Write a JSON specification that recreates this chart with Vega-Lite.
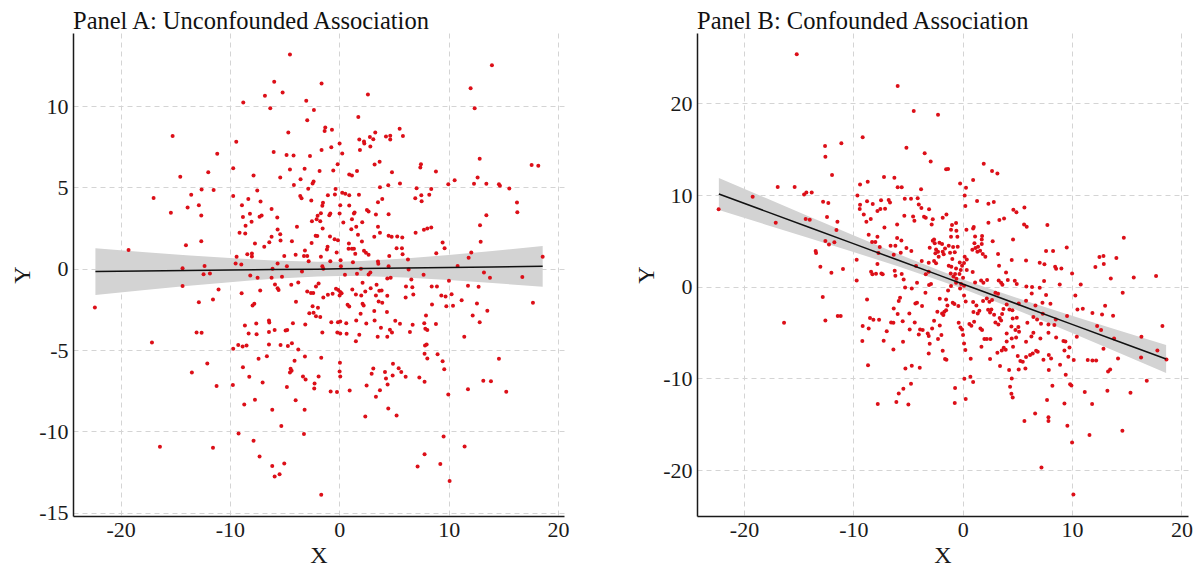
{
"$schema": "https://vega.github.io/schema/vega-lite/v6.json",
"background": "white",
"padding": {"left": 10, "top": 8, "right": 5, "bottom": 5},
"spacing": 133,
"bounds": "flush",
"config": {
  "font": "Liberation Serif",
  "view": {"stroke": null},
  "axis": {
    "grid": true, "gridColor": "#d4d4d4", "gridDash": [5, 4], "gridWidth": 1,
    "domainColor": "#1a1a1a", "domainWidth": 1.5,
    "ticks": false, "tickSize": 0,
    "labelFont": "Liberation Serif", "labelFontSize": 22, "labelColor": "#1a1a1a", "labelFlush": false,
    "titleFont": "Liberation Serif", "titleFontSize": 24, "titleFontWeight": "normal", "titleColor": "#1a1a1a",
    "labelExpr": "'' + datum.value"
  },
  "axisX": {"labelPadding": 3.5, "titlePadding": 3},
  "axisY": {"labelPadding": 5, "titlePadding": 4},
  "title": {"font": "Liberation Serif", "fontSize": 24.5, "fontWeight": "normal", "anchor": "start", "frame": "group", "baseline": "bottom", "offset": -1, "color": "#111111"}
},
"datasets": {
"a_fit": [{"x":-22.3,"fit":-0.17,"lo":-1.61,"hi":1.27},{"x":-18,"fit":-0.14,"lo":-1.32,"hi":1.04},{"x":-14,"fit":-0.11,"lo":-1.06,"hi":0.84},{"x":-10,"fit":-0.08,"lo":-0.82,"hi":0.66},{"x":-6,"fit":-0.05,"lo":-0.61,"hi":0.51},{"x":-2,"fit":-0.02,"lo":-0.47,"hi":0.43},{"x":0,"fit":0,"lo":-0.44,"hi":0.44},{"x":2,"fit":0.02,"lo":-0.44,"hi":0.48},{"x":6,"fit":0.05,"lo":-0.54,"hi":0.64},{"x":10,"fit":0.08,"lo":-0.69,"hi":0.85},{"x":14,"fit":0.11,"lo":-0.88,"hi":1.1},{"x":18.6,"fit":0.15,"lo":-1.1,"hi":1.4}],
"b_fit": [{"x":-22.3,"fit":10.11,"lo":8.36,"hi":11.86},{"x":-18,"fit":8.22,"lo":6.77,"hi":9.67},{"x":-14,"fit":6.46,"lo":5.29,"hi":7.63},{"x":-10,"fit":4.7,"lo":3.79,"hi":5.61},{"x":-6,"fit":2.94,"lo":2.26,"hi":3.62},{"x":-2,"fit":1.18,"lo":0.63,"hi":1.73},{"x":0,"fit":0.3,"lo":-0.23,"hi":0.83},{"x":2,"fit":-0.58,"lo":-1.14,"hi":-0.02},{"x":6,"fit":-2.34,"lo":-3.05,"hi":-1.63},{"x":10,"fit":-4.1,"lo":-5.04,"hi":-3.16},{"x":14,"fit":-5.86,"lo":-7.07,"hi":-4.65},{"x":18.6,"fit":-7.88,"lo":-9.41,"hi":-6.35}],
"a_pts": [
{"x":-4.51,"y":13.18},{"x":-5.95,"y":11.5},{"x":-1.62,"y":11.39},{"x":-6.8,"y":10.64},{"x":-5.18,"y":10.84},{"x":2.62,"y":10.72},{"x":-8.78,"y":10.23},{"x":-6.31,"y":9.88},{"x":-3.02,"y":10.33},{"x":-2.32,"y":9.77},{"x":-2.93,"y":9.14},{"x":1.74,"y":9.34},{"x":-1.28,"y":8.69},{"x":-1.34,"y":8.48},{"x":-0.67,"y":8.55},{"x":-4.66,"y":8.38},{"x":-9.42,"y":7.81},{"x":-6.0,"y":7.19},{"x":-1.62,"y":7.3},{"x":-0.73,"y":7.48},{"x":0.03,"y":7.7},{"x":0.27,"y":7.09},{"x":-4.82,"y":7.0},{"x":-4.18,"y":6.97},{"x":-2.68,"y":6.93},{"x":1.83,"y":7.95},{"x":2.26,"y":7.83},{"x":2.29,"y":7.7},{"x":2.8,"y":8.11},{"x":3.11,"y":7.97},{"x":3.29,"y":8.38},{"x":1.89,"y":7.3},{"x":2.84,"y":7.52},{"x":4.27,"y":8.14},{"x":4.66,"y":8.18},{"x":4.66,"y":7.95},{"x":5.52,"y":8.61},{"x":5.82,"y":8.16},{"x":-0.15,"y":6.43},{"x":-9.7,"y":6.19},{"x":-4.51,"y":6.11},{"x":-3.17,"y":6.15},{"x":-1.8,"y":6.02},{"x":-0.55,"y":6.05},{"x":1.62,"y":6.02},{"x":3.23,"y":6.41},{"x":3.69,"y":6.58},{"x":4.82,"y":5.94},{"x":7.47,"y":6.43},{"x":7.41,"y":6.23},{"x":8.84,"y":5.98},{"x":-7.84,"y":5.74},{"x":-5.4,"y":5.61},{"x":-3.54,"y":5.51},{"x":-2.35,"y":5.37},{"x":-2.44,"y":5.25},{"x":0.91,"y":5.8},{"x":1.16,"y":5.74},{"x":-4.15,"y":5.16},{"x":5.55,"y":5.25},{"x":9.97,"y":5.2},{"x":10.55,"y":5.45},{"x":-9.7,"y":4.47},{"x":-7.5,"y":4.82},{"x":-8.32,"y":4.3},{"x":-8.9,"y":3.91},{"x":-7.2,"y":4.14},{"x":-6.19,"y":3.67},{"x":-3.57,"y":4.47},{"x":-3.45,"y":4.34},{"x":-2.56,"y":4.2},{"x":-2.84,"y":4.92},{"x":-1.04,"y":4.53},{"x":-0.34,"y":4.9},{"x":-0.4,"y":4.57},{"x":0.27,"y":4.67},{"x":0.55,"y":4.61},{"x":0.91,"y":4.53},{"x":1.8,"y":4.55},{"x":-1.49,"y":4.06},{"x":-1.55,"y":3.87},{"x":0.09,"y":3.91},{"x":0.91,"y":3.89},{"x":3.72,"y":5.02},{"x":4.48,"y":5.14},{"x":3.93,"y":4.3},{"x":3.54,"y":4.1},{"x":7.07,"y":4.96},{"x":7.5,"y":4.53},{"x":8.23,"y":4.55},{"x":8.41,"y":4.9},{"x":6.95,"y":4.34},{"x":7.53,"y":4.16},{"x":-8.17,"y":3.38},{"x":-8.81,"y":3.18},{"x":-8.02,"y":2.89},{"x":-7.29,"y":3.2},{"x":-7.1,"y":3.28},{"x":-5.67,"y":3.16},{"x":-8.57,"y":2.64},{"x":-9.12,"y":2.21},{"x":-8.6,"y":2.17},{"x":-5.64,"y":2.42},{"x":-5.4,"y":2.13},{"x":-6.19,"y":1.97},{"x":-7.71,"y":1.56},{"x":-6.4,"y":1.64},{"x":-5.37,"y":1.74},{"x":-6.86,"y":1.35},{"x":-4.33,"y":1.7},{"x":-3.87,"y":2.58},{"x":-2.5,"y":2.93},{"x":-1.98,"y":3.26},{"x":-2.07,"y":3.05},{"x":-1.74,"y":2.93},{"x":-1.68,"y":3.42},{"x":-0.82,"y":3.4},{"x":-0.91,"y":3.3},{"x":0.03,"y":3.4},{"x":-1.52,"y":2.48},{"x":0.37,"y":2.85},{"x":1.16,"y":3.05},{"x":1.34,"y":3.4},{"x":1.4,"y":3.46},{"x":1.1,"y":2.44},{"x":1.55,"y":2.58},{"x":2.1,"y":2.87},{"x":1.71,"y":2.09},{"x":-2.16,"y":2.03},{"x":-2.01,"y":2.01},{"x":-2.53,"y":1.58},{"x":-0.85,"y":1.99},{"x":-0.43,"y":1.82},{"x":-0.12,"y":1.76},{"x":0.88,"y":1.56},{"x":2.07,"y":1.68},{"x":2.53,"y":3.61},{"x":2.68,"y":3.52},{"x":3.35,"y":3.34},{"x":4.51,"y":3.36},{"x":3.54,"y":2.58},{"x":3.72,"y":2.21},{"x":3.2,"y":1.97},{"x":4.51,"y":2.03},{"x":4.79,"y":1.97},{"x":5.3,"y":1.99},{"x":5.76,"y":1.93},{"x":6.98,"y":2.21},{"x":7.74,"y":2.4},{"x":8.05,"y":2.48},{"x":8.41,"y":2.54},{"x":9.45,"y":1.62},{"x":9.63,"y":1.27},{"x":8.87,"y":0.96},{"x":5.24,"y":1.27},{"x":5.73,"y":1.27},{"x":5.79,"y":0.9},{"x":6.28,"y":0.57},{"x":1.16,"y":1.23},{"x":1.34,"y":1.23},{"x":0.85,"y":1.23},{"x":-1.07,"y":1.35},{"x":-1.13,"y":1.19},{"x":-0.24,"y":1.0},{"x":1.46,"y":0.92},{"x":2.26,"y":1.11},{"x":2.44,"y":0.98},{"x":2.68,"y":0.86},{"x":-3.14,"y":1.13},{"x":-2.93,"y":0.78},{"x":-3.23,"y":0.78},{"x":-3.99,"y":0.86},{"x":-5.03,"y":0.78},{"x":-7.99,"y":0.94},{"x":-8.41,"y":0.9},{"x":-7.99,"y":0.76},{"x":-9.39,"y":0.74},{"x":-5.64,"y":0.33},{"x":-4.79,"y":0.16},{"x":-1.68,"y":0.74},{"x":-0.82,"y":0.47},{"x":-1.55,"y":0.16},{"x":0.12,"y":0.53},{"x":1.25,"y":0.41},{"x":3.54,"y":0.45},{"x":4.57,"y":0.78},{"x":-9.48,"y":0.33},{"x":-8.96,"y":0.27},{"x":-2.8,"y":0.47},
{"x":-1.46,"y":0.0},{"x":0.15,"y":0.16},{"x":1.98,"y":0.0},{"x":3.57,"y":0.31},{"x":4.51,"y":0.16},{"x":6.34,"y":-0.04},{"x":-3.41,"y":-0.16},{"x":-6.1,"y":0.0},{"x":-8.14,"y":-0.41},{"x":-7.47,"y":-0.55},{"x":-6.19,"y":-0.55},{"x":-5.24,"y":-0.49},{"x":-5.88,"y":-0.96},{"x":-5.64,"y":-1.19},{"x":-5.55,"y":-1.31},{"x":-8.93,"y":-1.5},{"x":-7.23,"y":-1.33},{"x":-4.39,"y":-0.98},{"x":-3.75,"y":-0.84},{"x":-2.13,"y":-1.09},{"x":-1.89,"y":-0.9},{"x":-2.93,"y":-1.39},{"x":-2.59,"y":-1.48},{"x":-2.38,"y":-1.48},{"x":-1.46,"y":-1.76},{"x":-1.04,"y":-1.6},{"x":-0.61,"y":-1.54},{"x":-0.3,"y":-1.23},{"x":-0.09,"y":-1.31},{"x":0.09,"y":-1.43},{"x":0.21,"y":-1.5},{"x":0.03,"y":-1.64},{"x":0.52,"y":-0.37},{"x":1.62,"y":-0.31},{"x":2.68,"y":-0.35},{"x":2.84,"y":-0.23},{"x":4.39,"y":-0.59},{"x":4.7,"y":-0.55},{"x":2.13,"y":-0.86},{"x":1.19,"y":-1.27},{"x":1.52,"y":-1.58},{"x":2.01,"y":-1.64},{"x":2.38,"y":-1.39},{"x":2.87,"y":-1.19},{"x":3.41,"y":-0.98},{"x":3.66,"y":-1.35},{"x":3.87,"y":-1.33},{"x":3.35,"y":-1.64},{"x":3.6,"y":-2.01},{"x":3.93,"y":-2.09},{"x":4.39,"y":-1.66},{"x":6.1,"y":-1.09},{"x":6.59,"y":-0.66},{"x":6.68,"y":-1.13},{"x":6.07,"y":-1.76},{"x":6.77,"y":-1.58},{"x":7.71,"y":-0.37},{"x":8.45,"y":-1.09},{"x":8.93,"y":-1.09},{"x":10.03,"y":-0.74},{"x":9.33,"y":-1.64},{"x":9.72,"y":-1.7},{"x":10.27,"y":-1.56},{"x":-7.93,"y":-2.25},{"x":-7.77,"y":-2.15},{"x":-3.96,"y":-2.03},{"x":-2.44,"y":-2.3},{"x":-1.95,"y":-2.4},{"x":-2.74,"y":-2.73},{"x":-2.35,"y":-2.7},{"x":-2.13,"y":-2.91},{"x":-1.74,"y":-2.97},{"x":0.76,"y":-2.21},{"x":0.91,"y":-2.32},{"x":2.13,"y":-2.15},{"x":2.23,"y":-2.25},{"x":1.95,"y":-2.77},{"x":3.2,"y":-2.6},{"x":4.36,"y":-2.66},{"x":6.71,"y":-3.44},{"x":7.93,"y":-2.87},{"x":8.48,"y":-2.19},{"x":9.79,"y":-2.3},{"x":10.4,"y":-2.27},{"x":-8.63,"y":-3.48},{"x":-7.59,"y":-3.36},{"x":-6.43,"y":-3.18},{"x":-6.4,"y":-3.3},{"x":-5.91,"y":-3.77},{"x":-6.43,"y":-3.89},{"x":-8.29,"y":-3.98},{"x":-7.56,"y":-4.02},{"x":-4.91,"y":-3.79},{"x":-4.76,"y":-3.77},{"x":-4.24,"y":-3.34},{"x":-3.11,"y":-3.42},{"x":-1.55,"y":-3.91},{"x":-0.73,"y":-3.28},{"x":-0.12,"y":-3.28},{"x":0.09,"y":-3.24},{"x":0.64,"y":-3.34},{"x":-0.18,"y":-3.91},{"x":0.09,"y":-3.98},{"x":0.67,"y":-4.0},{"x":1.55,"y":-3.18},{"x":2.47,"y":-3.36},{"x":3.23,"y":-3.18},{"x":3.81,"y":-3.63},{"x":4.63,"y":-3.75},{"x":4.82,"y":-3.91},{"x":5.12,"y":-3.2},{"x":5.55,"y":-3.38},{"x":3.51,"y":-4.18},{"x":4.39,"y":-4.18},{"x":1.83,"y":-4.06},{"x":1.52,"y":-4.45},{"x":6.46,"y":-3.89},{"x":7.77,"y":-3.34},{"x":8.05,"y":-3.77},{"x":7.87,"y":-3.69},{"x":8.84,"y":-3.4},{"x":-9.7,"y":-4.92},{"x":-9.24,"y":-4.69},{"x":-8.84,"y":-4.77},{"x":-8.48,"y":-4.71},{"x":-6.43,"y":-4.65},{"x":-5.37,"y":-4.69},{"x":-4.7,"y":-4.75},{"x":-4.33,"y":-4.57},{"x":-3.75,"y":-4.96},{"x":-3.14,"y":-5.39},{"x":-4.09,"y":-5.66},{"x":-7.38,"y":-5.53},{"x":-6.62,"y":-5.37},{"x":-1.65,"y":-5.47},{"x":0.06,"y":-5.78},{"x":0.03,"y":-6.31},{"x":0.09,"y":-6.62},{"x":-4.45,"y":-6.15},{"x":-4.36,"y":-6.27},{"x":-4.51,"y":-6.37},{"x":-8.81,"y":-6.05},{"x":-8.23,"y":-6.64},{"x":-7.01,"y":-6.99},{"x":-3.32,"y":-6.62},{"x":-3.08,"y":-6.8},{"x":-1.89,"y":-6.62},{"x":-2.26,"y":-7.05},{"x":-2.29,"y":-7.36},{"x":-4.79,"y":-7.27},{"x":-9.73,"y":-7.15},{"x":-0.79,"y":-7.54},{"x":-0.21,"y":-7.58},{"x":0.95,"y":-7.48},{"x":2.5,"y":-7.17},{"x":2.96,"y":-6.45},{"x":3.11,"y":-6.13},{"x":4.18,"y":-6.35},{"x":4.27,"y":-6.74},{"x":4.42,"y":-7.11},{"x":4.91,"y":-5.84},{"x":4.88,"y":-6.56},{"x":5.43,"y":-6.11},{"x":5.67,"y":-6.35},{"x":6.07,"y":-6.64},{"x":3.72,"y":-7.46},{"x":3.35,"y":-7.87},{"x":4.48,"y":-8.59},{"x":5.24,"y":-9.02},{"x":2.38,"y":-9.08},{"x":7.32,"y":-6.68},{"x":7.8,"y":-6.95},{"x":7.84,"y":-4.71},{"x":7.99,"y":-4.65},{"x":7.8,"y":-5.23},{"x":8.05,"y":-5.51},{"x":8.99,"y":-5.25},{"x":9.45,"y":-5.68},{"x":9.6,"y":-6.17},{"x":9.97,"y":-7.73},{"x":-8.69,"y":-8.34},{"x":-7.71,"y":-8.05},{"x":-6.13,"y":-8.67},{"x":-3.99,"y":-8.09},{"x":-3.17,"y":-8.67},{"x":-5.3,"y":-9.67},{"x":-9.21,"y":-10.12},{"x":-3.23,"y":-10.16},{"x":-7.84,"y":-10.57},{"x":-7.29,"y":-11.54},{"x":-6.13,"y":-12.13},{"x":-5.03,"y":-11.97},{"x":-5.91,"y":-12.77},{"x":-5.46,"y":-12.64},{"x":-1.65,"y":-13.89},{"x":9.54,"y":-10.31},{"x":7.8,"y":-11.41},{"x":7.16,"y":-12.15},{"x":9.24,"y":-12.01},{"x":10.09,"y":-13.05},
{"x":-15.24,"y":8.16},{"x":-11.16,"y":7.07},{"x":-14.54,"y":5.66},{"x":-11.98,"y":5.94},{"x":-16.98,"y":4.36},{"x":-13.54,"y":4.55},{"x":-12.59,"y":4.88},{"x":-11.49,"y":4.84},{"x":-15.4,"y":3.44},{"x":-13.87,"y":3.77},{"x":-12.84,"y":3.91},{"x":-12.62,"y":3.28},{"x":-14.02,"y":1.45},{"x":-12.62,"y":1.7},{"x":-19.27,"y":1.15},{"x":-14.33,"y":0.04},{"x":-12.32,"y":0.18},{"x":-12.41,"y":-0.33},{"x":-11.83,"y":-0.29},{"x":-14.33,"y":-1.05},
{"x":-11.04,"y":-1.27},{"x":-22.35,"y":-2.38},{"x":-12.84,"y":-2.05},{"x":-11.55,"y":-1.88},{"x":-13.05,"y":-3.91},{"x":-12.59,"y":-3.93},{"x":-17.13,"y":-4.53},{"x":-12.07,"y":-5.82},{"x":-13.48,"y":-6.37},{"x":-11.22,"y":-7.21},{"x":-16.4,"y":-10.94},{"x":-11.55,"y":-11.0},
{"x":13.96,"y":12.52},{"x":12.01,"y":11.11},{"x":12.38,"y":9.88},{"x":12.84,"y":6.76},{"x":17.59,"y":6.39},{"x":18.2,"y":6.33},{"x":12.32,"y":5.23},{"x":12.65,"y":5.61},{"x":13.45,"y":5.23},{"x":14.6,"y":5.2},{"x":14.69,"y":5.1},{"x":15.55,"y":4.94},{"x":16.25,"y":4.08},{"x":16.28,"y":3.48},{"x":13.45,"y":3.3},{"x":12.87,"y":2.68},{"x":12.93,"y":1.66},{"x":12.07,"y":1.0},{"x":11.83,"y":0.68},{"x":18.6,"y":0.74},{"x":10.82,"y":0.18},{"x":13.23,"y":-0.23},{"x":13.78,"y":-0.55},{"x":16.74,"y":-0.51},
{"x":11.77,"y":-1.04},{"x":12.74,"y":-1.11},{"x":11.19,"y":-1.93},{"x":12.59,"y":-2.13},{"x":17.71,"y":-2.09},{"x":13.54,"y":-2.58},{"x":12.2,"y":-2.87},{"x":12.84,"y":-3.28},{"x":11.43,"y":-4.18},{"x":14.6,"y":-5.53},{"x":13.17,"y":-6.89},{"x":13.87,"y":-6.91},{"x":11.77,"y":-7.4},{"x":15.27,"y":-7.56},{"x":11.46,"y":-10.92}
],
"b_pts": [
{"x":-5.95,"y":21.89},{"x":-4.48,"y":19.16},{"x":-2.26,"y":18.76},{"x":-11.1,"y":15.64},{"x":-9.15,"y":16.29},{"x":-5.15,"y":15.16},{"x":-3.48,"y":14.55},{"x":-2.93,"y":13.67},{"x":-1.52,"y":12.8},{"x":-1.34,"y":12.84},{"x":1.92,"y":13.42},{"x":2.68,"y":12.62},{"x":3.17,"y":12.36},{"x":-9.39,"y":11.16},{"x":-8.69,"y":11.45},{"x":-7.2,"y":11.96},{"x":-6.25,"y":11.89},{"x":-5.95,"y":10.84},{"x":-5.58,"y":10.84},{"x":-3.81,"y":10.62},{"x":-0.24,"y":11.27},{"x":0.3,"y":10.8},{"x":0.95,"y":11.64},{"x":-9.63,"y":9.96},{"x":-8.75,"y":9.31},{"x":-9.39,"y":8.95},{"x":-9.42,"y":8.47},{"x":-8.23,"y":9.02},{"x":-7.47,"y":9.42},{"x":-6.77,"y":9.45},{"x":-6.65,"y":9.2},{"x":-5.3,"y":9.6},{"x":-4.73,"y":9.6},{"x":-4.12,"y":9.64},{"x":-4.02,"y":8.98},{"x":-3.78,"y":8.58},{"x":-7.53,"y":8.47},{"x":-7.8,"y":8.25},{"x":-7.1,"y":8.51},{"x":-9.05,"y":7.89},{"x":-8.41,"y":7.38},{"x":-8.81,"y":7.09},{"x":-5.34,"y":7.75},{"x":-4.54,"y":7.67},{"x":-4.42,"y":7.2},{"x":-3.54,"y":7.64},{"x":-3.38,"y":7.53},{"x":-2.74,"y":7.35},{"x":-3.08,"y":8.44},{"x":-1.83,"y":7.53},{"x":-1.49,"y":7.89},{"x":0.18,"y":9.96},{"x":0.24,"y":8.8},{"x":1.31,"y":9.35},{"x":2.35,"y":9.05},{"x":2.84,"y":9.24},{"x":4.63,"y":8.4},{"x":4.91,"y":8.11},{"x":5.64,"y":8.65},{"x":-11.46,"y":7.09},{"x":-11.55,"y":6.18},{"x":3.35,"y":7.27},{"x":3.78,"y":7.45},{"x":2.35,"y":6.98},{"x":-0.61,"y":6.95},{"x":-0.98,"y":6.73},{"x":-1.07,"y":6.22},{"x":-0.58,"y":6.11},{"x":-2.84,"y":6.8},{"x":-6.0,"y":6.8},{"x":-7.16,"y":6.47},{"x":1.01,"y":6.51},{"x":0.95,"y":6.36},{"x":0.34,"y":6.22},{"x":5.61,"y":6.8},{"x":5.85,"y":6.55},{"x":7.74,"y":6.73},{"x":-8.6,"y":5.67},{"x":-8.29,"y":4.87},{"x":-7.99,"y":4.87},{"x":-7.59,"y":4.33},{"x":-7.8,"y":5.45},{"x":-6.6,"y":4.47},{"x":-6.0,"y":5.31},{"x":-6.16,"y":4.47},{"x":-5.61,"y":5.05},{"x":-5.15,"y":4.22},{"x":-4.7,"y":3.89},{"x":-5.67,"y":3.71},{"x":-7.71,"y":3.67},{"x":-9.7,"y":2.95},{"x":-10.95,"y":1.93},{"x":-9.7,"y":0.69},{"x":-8.38,"y":1.64},{"x":-8.26,"y":1.35},{"x":-7.93,"y":1.42},{"x":-7.44,"y":1.45},{"x":-7.32,"y":1.35},{"x":-7.8,"y":2.47},{"x":-6.22,"y":1.75},{"x":-6.16,"y":1.2},{"x":-5.58,"y":1.38},{"x":-5.4,"y":0.8},{"x":-6.31,"y":3.49},{"x":-4.18,"y":0.44},{"x":-4.27,"y":2.25},{"x":-3.38,"y":1.35},{"x":-3.11,"y":2.62},{"x":-2.62,"y":5.16},{"x":-2.56,"y":4.73},{"x":-2.13,"y":4.8},{"x":-1.89,"y":4.65},{"x":-1.83,"y":3.82},{"x":-2.26,"y":3.82},{"x":-2.5,"y":3.64},{"x":-2.44,"y":4.07},{"x":-2.2,"y":3.27},{"x":-1.74,"y":3.53},{"x":-1.62,"y":4.18},{"x":-1.28,"y":4.47},{"x":-1.07,"y":5.45},{"x":-0.88,"y":4.33},{"x":-0.73,"y":3.75},{"x":-0.46,"y":4.36},{"x":-0.49,"y":5.45},{"x":-0.95,"y":3.02},{"x":-1.28,"y":2.29},{"x":-1.1,"y":1.45},{"x":-2.62,"y":2.8},{"x":-2.44,"y":2.55},{"x":-3.11,"y":1.64},{"x":0.18,"y":3.27},{"x":0.37,"y":2.98},{"x":0.12,"y":2.58},{"x":-0.06,"y":2.29},{"x":-0.18,"y":1.82},{"x":-0.3,"y":1.38},{"x":-0.7,"y":1.38},{"x":-0.58,"y":0.87},{"x":1.13,"y":5.49},{"x":1.77,"y":5.53},{"x":1.74,"y":5.16},{"x":0.88,"y":4.04},{"x":1.16,"y":4.22},{"x":1.34,"y":3.82},{"x":1.4,"y":4.36},{"x":1.59,"y":3.93},{"x":1.83,"y":3.56},{"x":2.07,"y":3.27},{"x":1.74,"y":4.65},{"x":2.74,"y":4.95},{"x":3.32,"y":2.29},{"x":3.23,"y":3.56},{"x":3.96,"y":1.56},{"x":4.48,"y":2.91},{"x":4.6,"y":5.16},{"x":5.79,"y":2.87},{"x":7.04,"y":2.62},{"x":7.47,"y":2.44},{"x":7.62,"y":3.89},{"x":8.26,"y":3.89},{"x":8.45,"y":2.18},{"x":8.54,"y":1.96},{"x":9.02,"y":2.0},{"x":9.51,"y":4.29},{"x":10.0,"y":1.45},{"x":10.79,"y":0.25},{"x":0.91,"y":1.6},{"x":1.13,"y":0.47},{"x":1.68,"y":0.69},{"x":1.89,"y":0.44},{"x":2.23,"y":0.73},{"x":3.29,"y":0.69},{"x":3.51,"y":0.44},{"x":3.63,"y":0.22},{"x":4.12,"y":0.73},{"x":4.76,"y":0.65},{"x":4.94,"y":0.29},{"x":5.82,"y":0.04},{"x":6.34,"y":-0.04},{"x":7.04,"y":-0.11},{"x":7.44,"y":0.62},{"x":-2.74,"y":5.02},{"x":-3.75,"y":2.8},{"x":-3.02,"y":4.25},{"x":-0.61,"y":0.44},{"x":-0.15,"y":0.29},{"x":0.03,"y":0.98},{"x":0.37,"y":1.82},{"x":-1.16,"y":3.71},{"x":1.07,"y":4.73},{"x":-1.04,"y":2.18},{"x":-0.61,"y":2.0},{"x":-0.27,"y":2.65},{"x":-0.85,"y":1.13},
{"x":-11.43,"y":-3.2},{"x":-11.16,"y":-3.2},{"x":-8.75,"y":-1.38},{"x":-9.15,"y":-4.29},{"x":-8.6,"y":-4.55},{"x":-8.48,"y":-3.42},{"x":-8.17,"y":-3.6},{"x":-7.65,"y":-3.6},{"x":-9.18,"y":-5.93},{"x":-8.66,"y":-8.55},{"x":-7.77,"y":-12.8},{"x":-7.23,"y":-5.89},{"x":-6.95,"y":-4.84},{"x":-6.55,"y":-3.89},{"x":-6.34,"y":-3.93},{"x":-6.34,"y":-6.84},{"x":-6.31,"y":-2.36},{"x":-5.95,"y":-2.98},{"x":-5.85,"y":-1.56},{"x":-5.73,"y":-1.2},{"x":-5.49,"y":-3.75},{"x":-5.46,"y":-6.0},{"x":-4.85,"y":-4.65},{"x":-4.39,"y":-3.89},{"x":-4.88,"y":-2.91},{"x":-5.27,"y":-0.07},{"x":-4.66,"y":-0.18},{"x":-4.33,"y":-1.82},{"x":-4.18,"y":-1.75},{"x":-3.72,"y":-2.11},{"x":-3.41,"y":-0.65},{"x":-3.08,"y":0.18},{"x":-2.9,"y":0.29},{"x":-3.9,"y":-4.65},{"x":-4.02,"y":-5.2},{"x":-3.66,"y":-4.73},{"x":-3.2,"y":-5.09},{"x":-3.11,"y":-5.38},{"x":-2.8,"y":-4.55},{"x":-3.02,"y":-6.22},{"x":-3.11,"y":-7.27},{"x":-2.62,"y":-3.71},{"x":-2.1,"y":-4.22},{"x":-2.32,"y":-2.73},{"x":-2.1,"y":-1.31},{"x":-1.89,"y":-2.91},{"x":-1.77,"y":-3.09},{"x":-1.68,"y":-2.73},{"x":-1.52,"y":-2.55},{"x":-1.4,"y":-2.04},{"x":-1.52,"y":-1.38},{"x":-1.34,"y":-0.4},{"x":-1.07,"y":0.07},{"x":-0.91,"y":-1.75},{"x":-0.76,"y":-1.89},{"x":-0.4,"y":-2.11},{"x":-0.24,"y":-0.18},{"x":0.12,"y":-0.95},{"x":0.27,"y":-1.6},{"x":0.12,"y":0.11},{"x":-1.95,"y":-5.27},{"x":-2.26,"y":-5.71},{"x":-1.83,"y":-6.98},{"x":-1.62,"y":-7.89},{"x":-1.49,"y":-7.96},{"x":-5.24,"y":-8.91},{"x":-4.66,"y":-8.62},{"x":-3.93,"y":-8.84},{"x":-4.73,"y":-10.58},{"x":-5.43,"y":-11.13},{"x":-5.85,"y":-11.64},{"x":-6.07,"y":-12.58},{"x":-4.97,"y":-12.84},{"x":-0.7,"y":-11.05},{"x":-0.73,"y":-12.69},{"x":0.15,"y":-10.04},{"x":0.7,"y":-9.82},{"x":0.95,"y":-10.4},{"x":0.27,"y":-12.25},{"x":-0.37,"y":-3.93},{"x":-0.21,"y":-4.44},{"x":-0.06,"y":-4.65},{"x":0.03,"y":-5.27},{"x":0.12,"y":-6.18},{"x":0.24,"y":-6.91},{"x":0.73,"y":-7.85},{"x":0.61,"y":-4.07},{"x":0.79,"y":-4.25},{"x":0.98,"y":-2.76},{"x":1.04,"y":-3.82},{"x":0.95,"y":-1.67},{"x":1.25,"y":-2.04},{"x":1.37,"y":-2.91},{"x":1.52,"y":-2.62},{"x":1.62,"y":-4.55},{"x":1.77,"y":-4.73},{"x":1.98,"y":-5.71},{"x":2.2,"y":-5.71},{"x":2.53,"y":-5.71},{"x":1.71,"y":-6.55},{"x":2.5,"y":-7.89},{"x":2.32,"y":-2.51},{"x":2.5,"y":-2.8},{"x":2.62,"y":-2.47},{"x":2.87,"y":-3.05},{"x":2.99,"y":-3.89},{"x":3.26,"y":-4.11},{"x":3.38,"y":-3.42},{"x":3.51,"y":-3.67},{"x":3.6,"y":-2.98},{"x":3.72,"y":-2.44},{"x":3.23,"y":-0.76},{"x":2.99,"y":-0.65},{"x":2.2,"y":-1.27},{"x":2.44,"y":-1.64},{"x":2.68,"y":-1.45},{"x":1.86,"y":-1.56},{"x":3.17,"y":-7.2},{"x":3.57,"y":-6.95},{"x":3.75,"y":-6.65},{"x":3.41,"y":-8.65},{"x":4.02,"y":-5.09},{"x":4.02,"y":-5.96},{"x":3.93,"y":-6.87},{"x":4.24,"y":-9.09},{"x":4.48,"y":-10.0},{"x":4.33,"y":-10.91},{"x":4.45,"y":-11.67},{"x":4.57,"y":-12.07},{"x":4.48,"y":-5.64},{"x":4.6,"y":-6.55},{"x":4.88,"y":-5.53},{"x":5.03,"y":-7.56},{"x":5.27,"y":-8.11},{"x":5.12,"y":-9.02},{"x":5.49,"y":-8.18},{"x":5.73,"y":-8.91},{"x":5.79,"y":-7.67},{"x":6.16,"y":-7.45},{"x":6.4,"y":-7.27},{"x":6.71,"y":-6.98},{"x":6.86,"y":-7.09},{"x":7.38,"y":-7.96},{"x":7.87,"y":-7.45},{"x":8.08,"y":-7.82},{"x":7.87,"y":-9.09},{"x":8.2,"y":-10.8},{"x":7.71,"y":-12.36},{"x":6.62,"y":-13.82},{"x":5.64,"y":-14.65},{"x":7.84,"y":-14.22},{"x":7.84,"y":-14.65},{"x":7.2,"y":-19.71},{"x":9.3,"y":-12.73},{"x":9.57,"y":-15.16},{"x":10.0,"y":-16.98},{"x":9.42,"y":-9.6},{"x":9.82,"y":-10.62},{"x":9.94,"y":-10.76},{"x":10.15,"y":-8.0},{"x":9.66,"y":-7.64},{"x":9.3,"y":-6.95},{"x":9.76,"y":-6.62},{"x":9.39,"y":-5.96},{"x":11.16,"y":-11.49},{"x":10.43,"y":-5.45},{"x":5.79,"y":-6.0},{"x":6.28,"y":-5.42},{"x":6.46,"y":-5.02},{"x":7.1,"y":-5.64},{"x":7.84,"y":-5.02},{"x":8.54,"y":-5.53},{"x":9.21,"y":-5.93},{"x":5.91,"y":-3.93},{"x":6.46,"y":-3.31},{"x":5.09,"y":-4.4},{"x":5.15,"y":-4.91},{"x":4.82,"y":-4.73},{"x":4.45,"y":-4.33},{"x":4.94,"y":-3.38},{"x":4.57,"y":-3.45},{"x":6.8,"y":-3.56},{"x":7.16,"y":-4.04},{"x":7.32,"y":-2.95},{"x":7.84,"y":-4.11},{"x":8.38,"y":-4.18},{"x":8.02,"y":-1.85},{"x":8.51,"y":-3.56},{"x":9.54,"y":-3.2},{"x":10.49,"y":-2.47},{"x":10.98,"y":-2.4},{"x":7.29,"y":-1.75},{"x":6.65,"y":-2.04},{"x":6.31,"y":-0.73},{"x":5.79,"y":-1.53},{"x":5.12,"y":-1.82},{"x":4.54,"y":-2.55},{"x":4.27,"y":-2.47},{"x":4.02,"y":-1.93},{"x":7.62,"y":-0.91},{"x":8.87,"y":0.25},{"x":10.3,"y":-0.95},{"x":8.9,"y":-8.51},
{"x":14.63,"y":-0.65},{"x":13.02,"y":-2.07},{"x":12.74,"y":-3.02},{"x":11.86,"y":-2.87},{"x":13.75,"y":-3.16},{"x":12.29,"y":-4.29},{"x":12.65,"y":-4.73},{"x":13.84,"y":-5.64},{"x":12.87,"y":-6.76},{"x":14.2,"y":-7.82},{"x":11.43,"y":-8.0},{"x":11.86,"y":-8.04},{"x":12.2,"y":-8.04},{"x":13.48,"y":-9.02},{"x":13.29,"y":-9.24},{"x":16.34,"y":-5.45},{"x":16.31,"y":-7.71},{"x":18.26,"y":-4.29},{"x":17.8,"y":-6.95},{"x":18.63,"y":-7.93},{"x":16.83,"y":-10.25},{"x":15.34,"y":-11.56},{"x":13.23,"y":-11.35},{"x":11.83,"y":-12.8},{"x":14.6,"y":-15.71},{"x":11.59,"y":-16.18},{"x":10.12,"y":-22.65},
{"x":14.73,"y":5.35},{"x":12.5,"y":3.24},{"x":12.87,"y":3.35},{"x":12.13,"y":2.15},{"x":12.9,"y":2.47},{"x":14.05,"y":3.13},{"x":13.54,"y":0.91},{"x":15.64,"y":1.02},{"x":17.68,"y":1.16},
{"x":-15.18,"y":25.35},{"x":-12.59,"y":15.35},{"x":-12.56,"y":14.18},{"x":-11.95,"y":12.18},{"x":-16.92,"y":10.87},{"x":-15.37,"y":10.87},{"x":-14.51,"y":10.07},{"x":-14.3,"y":10.29},{"x":-13.81,"y":10.29},{"x":-19.21,"y":9.82},{"x":-22.32,"y":8.44},{"x":-12.77,"y":9.27},{"x":-12.29,"y":9.13},{"x":-14.36,"y":7.38},{"x":-13.99,"y":7.31},{"x":-12.41,"y":7.6},{"x":-17.1,"y":6.98},{"x":-12.56,"y":4.98},{"x":-12.23,"y":4.62},{"x":-11.74,"y":4.84},{"x":-13.45,"y":3.89},{"x":-13.41,"y":3.67},{"x":-13.02,"y":2.18},{"x":-12.01,"y":1.53},
{"x":-12.8,"y":-1.13},{"x":-16.34,"y":-3.93},{"x":-12.56,"y":-3.67}
]
},
"hconcat": [
{
  "width": 491, "height": 483,
  "title": {"text": "Panel A: Unconfounded Association"},
  "layer": [
    {"data": {"name": "a_fit"}, "mark": {"type": "area", "color": "#d3d3d3", "opacity": 1},
     "encoding": {
       "x": {"field": "x", "type": "quantitative", "title": "X", "scale": {"domain": [-24.35, 20.55], "nice": false, "zero": false}, "axis": {"values": [-20, -10, 0, 10, 20]}},
       "y": {"field": "lo", "type": "quantitative", "title": "Y", "scale": {"domain": [-15.2, 14.5], "nice": false, "zero": false}, "axis": {"values": [-15, -10, -5, 0, 5, 10]}},
       "y2": {"field": "hi"}}},
    {"data": {"name": "a_pts"}, "mark": {"type": "circle", "color": "#dc0f18", "size": 16, "opacity": 1},
     "encoding": {
       "x": {"field": "x", "type": "quantitative", "title": "X", "scale": {"domain": [-24.35, 20.55], "nice": false, "zero": false}},
       "y": {"field": "y", "type": "quantitative", "title": "Y", "scale": {"domain": [-15.2, 14.5], "nice": false, "zero": false}}}},
    {"data": {"name": "a_fit"}, "mark": {"type": "line", "color": "#111111", "strokeWidth": 1.5},
     "encoding": {
       "x": {"field": "x", "type": "quantitative", "title": "X", "scale": {"domain": [-24.35, 20.55], "nice": false, "zero": false}},
       "y": {"field": "fit", "type": "quantitative", "title": "Y", "scale": {"domain": [-15.2, 14.5], "nice": false, "zero": false}}}}
  ]
},
{
  "width": 491, "height": 483,
  "title": {"text": "Panel B: Confounded Association"},
  "layer": [
    {"data": {"name": "b_fit"}, "mark": {"type": "area", "color": "#d3d3d3", "opacity": 1},
     "encoding": {
       "x": {"field": "x", "type": "quantitative", "title": "X", "scale": {"domain": [-24.3, 20.6], "nice": false, "zero": false}, "axis": {"values": [-20, -10, 0, 10, 20]}},
       "y": {"field": "lo", "type": "quantitative", "title": "Y", "scale": {"domain": [-25.0, 27.67], "nice": false, "zero": false}, "axis": {"values": [-20, -10, 0, 10, 20]}},
       "y2": {"field": "hi"}}},
    {"data": {"name": "b_pts"}, "mark": {"type": "circle", "color": "#dc0f18", "size": 16, "opacity": 1},
     "encoding": {
       "x": {"field": "x", "type": "quantitative", "title": "X", "scale": {"domain": [-24.3, 20.6], "nice": false, "zero": false}},
       "y": {"field": "y", "type": "quantitative", "title": "Y", "scale": {"domain": [-25.0, 27.67], "nice": false, "zero": false}}}},
    {"data": {"name": "b_fit"}, "mark": {"type": "line", "color": "#111111", "strokeWidth": 1.5},
     "encoding": {
       "x": {"field": "x", "type": "quantitative", "title": "X", "scale": {"domain": [-24.3, 20.6], "nice": false, "zero": false}},
       "y": {"field": "fit", "type": "quantitative", "title": "Y", "scale": {"domain": [-25.0, 27.67], "nice": false, "zero": false}}}}
  ]
}
]
}
